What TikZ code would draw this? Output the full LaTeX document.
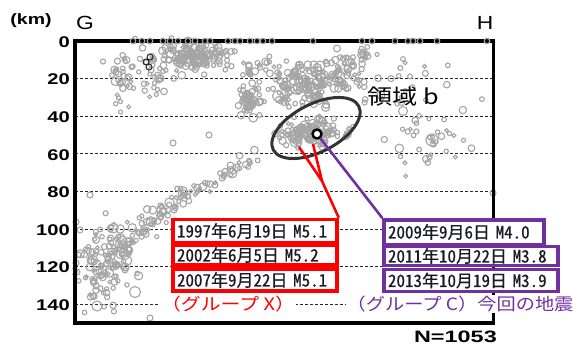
\documentclass[tikz,border=0pt]{standalone}
\usepackage{fontspec}
\setmainfont{Liberation Sans}
\newfontfamily\jpfont{Noto Sans CJK JP}
\newfontfamily\jpboxfont[CharacterWidth=Half,FakeBold=0.6]{Noto Sans CJK JP}
\usetikzlibrary{shapes.geometric}
\definecolor{qgray}{RGB}{165,165,165}
\definecolor{grpred}{RGB}{255,0,0}
\definecolor{grppur}{RGB}{112,48,160}
\definecolor{boxtxt}{RGB}{25,25,40}
% N, cx, cy, sx, sy, rmax
\newcommand\qblob[6]{%
  \foreach \i in {1,...,#1}{%
    \pgfmathsetmacro\qpx{#2+(rnd+rnd+rnd-1.5)*#4}%
    \pgfmathsetmacro\qpy{#3+(rnd+rnd+rnd-1.5)*#5}%
    \pgfmathsetmacro\qpr{1.9+#6*rnd*rnd}%
    \draw[quake] (\qpx,\qpy) circle[radius=\qpr pt];
  }}
% N, x0, y0, x1, y1, wx, wy, rmax
\newcommand\qslab[8]{%
  \foreach \i in {1,...,#1}{%
    \pgfmathsetmacro\qt{rnd}%
    \pgfmathsetmacro\qpx{#2+\qt*(#4-#2)+(rnd+rnd-1)*#6}%
    \pgfmathsetmacro\qpy{#3+\qt*(#5-#3)+(rnd+rnd-1)*#7}%
    \pgfmathsetmacro\qpr{1.9+#8*rnd*rnd}%
    \draw[quake] (\qpx,\qpy) circle[radius=\qpr pt];
  }}
\begin{document}
\begin{tikzpicture}[x=1pt,y=-1pt,
  quake/.style={draw=qgray,line width=1.1pt},
  gridline/.style={dash pattern=on 3pt off 2pt, line width=0.7pt, black!85},
  framel/.style={line width=4pt, black},
  axlab/.style={font=\fontsize{15.5}{16}\selectfont\bfseries, anchor=east, inner sep=0pt},
  rbox/.style={draw=grpred, line width=3.5pt, fill=white, text=boxtxt,
    font=\jpboxfont\fontsize{17}{18}\selectfont, inner xsep=4pt, inner ysep=0pt, align=left},
  pbox/.style={rbox, draw=grppur},
  redline/.style={draw=grpred, line width=2.6pt},
  purpline/.style={draw=grppur, line width=2.6pt},
  grplab/.style={font=\jpfont\fontsize{17}{18}\selectfont, fill=white, inner sep=1pt}
]
\useasboundingbox (0,0) rectangle (581,345);
\pgfmathsetseed{4242}

% grid lines
\foreach \k in {1,...,7}
  \draw[gridline] (75,41+\k*37.6) -- (493,41+\k*37.6);

% scatter
\begin{scope}
\clip (72,36) rectangle (500,330);
% shallow west
\qblob{160}{195}{57}{34}{15}{3}
\qblob{30}{122}{85}{12}{26}{3}
\qblob{35}{145}{70}{35}{30}{2.5}
\qblob{25}{265}{70}{30}{14}{2.5}
% region B
\qblob{55}{250}{100}{12}{14}{3}
% band C
\qblob{150}{310}{85}{40}{20}{3}
\qblob{40}{340}{70}{22}{16}{3}
\qblob{14}{364}{55}{5}{8}{2}
% ellipse interior
\qblob{130}{313}{132}{30}{13}{3}
% east sparse
\qblob{35}{430}{140}{50}{30}{3}
\qblob{30}{400}{85}{60}{35}{3}
% slab
\qslab{45}{265}{152}{170}{203}{10}{10}{2.5}
\qslab{90}{180}{198}{100}{265}{20}{16}{3.5}
\qblob{70}{108}{262}{28}{36}{3.2}
\qblob{25}{100}{290}{25}{20}{3}
% some big circles
\foreach \bx/\by/\br in {296/141/6, 432/140/6, 135/292/5.5, 232/173/5, 320/66/5, 403/111/4.5, 97/306/5, 278/96/5.5, 188/42/5}
  \draw[quake] (\bx,\by) circle[radius=\br pt];
\foreach \bx/\by in {76/222, 76/263, 77/272, 78/255, 150/318, 493/193, 90/195, 173/143, 209/135, 80/230}
  \draw[quake] (\bx,\by) circle[radius=3pt];
\end{scope}

% frame
\draw[framel] (75,41) -- (493,41);
\draw[framel] (75,39) -- (75,323);
\draw[framel] (73,323) -- (495,323);
\draw[line width=3pt] (493,39) -- (493,323);

% markers on top axis
\foreach \xx in {133,142,150,163,170,178,188,195,205,210,228,235,240,250,257,263,272,313,362,372,395,408,413,420,437,487}
  \draw[draw=qgray, line width=1.2pt] (\xx,41) circle[radius=2.8pt];

% black events
\foreach \bx/\by in {150/57, 146/62, 149/67}
  \draw[black!85, line width=1pt] (\bx,\by) circle[radius=3pt];

% axis labels
\foreach \d [count=\k from 0] in {0,20,40,60,80,100,120,140}
  \node[axlab] (lab\d) at (70,42+\k*37.6) {\scalebox{1.3}[1]{\d}};
\node[font=\fontsize{15}{16}\selectfont\bfseries] (km) at (31,21) {\scalebox{1.3}[1]{(km)}};
\node[font=\fontsize{19}{20}\selectfont] (G) at (85,23) {\scalebox{1.2}[1]{G}};
\node[font=\fontsize{19}{20}\selectfont] (H) at (485,23) {\scalebox{1.2}[1]{H}};
\node[font=\fontsize{16.5}{17}\selectfont\bfseries, anchor=east, inner sep=0pt] (N) at (497,337) {\scalebox{1.42}[1]{N=1053}};

% region b
\node[ellipse, draw=black!80, line width=3pt, rotate=27, minimum width=96pt, minimum height=48pt] (region) at (316,128) {};
\node[font=\jpfont\fontsize{21}{22}\selectfont] (ryoiki) at (403,97) {\scalebox{1.2}[1]{領域 b}};

% boxes
\node[rbox, text width=156pt, minimum height=23pt] (b1) at (255,231) {1997年6月19日 M5.1};
\node[rbox, text width=156pt, minimum height=20pt] (b2) at (255,255) {2002年6月5日 M5.2};
\node[rbox, text width=156pt, minimum height=22pt] (b3) at (255,280) {2007年9月22日 M5.1};
\node[pbox, text width=152pt, minimum height=24.5pt] (p1) at (464,232) {2009年9月6日 M4.0};
\node[pbox, text width=166pt, minimum height=19pt] (p2) at (471,256) {2011年10月22日 M3.8};
\node[pbox, text width=166pt, minimum height=22pt] (p3) at (471,280.5) {2013年10月19日 M3.9};

% current event and connectors
\node[circle, draw=black, line width=2.4pt, fill=white, minimum size=9pt, inner sep=0pt] (now) at (317,134) {};
\coordinate (rs1) at (299,147);
\coordinate (rs2) at (313,144);
\coordinate (rj) at (322,181);
\draw[redline] (rs1) -- (rj) -- (b1.north east);
\draw[redline] (rs2) -- (rj);
\draw[purpline] (now) -- (p1.north west);

% group labels
\node[grplab, text=grpred] (gx) at (228,304) {\scalebox{1.17}[1]{（グループ X）}};
\node[grplab, text=grppur, anchor=west, inner sep=0.5pt] (gc) at (346,304) {\scalebox{1.13}[1]{（グループ C）今回の地震}};
\end{tikzpicture}
\end{document}
